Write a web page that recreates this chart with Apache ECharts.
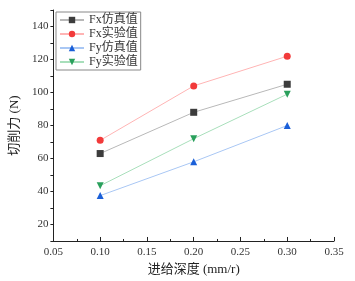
<!DOCTYPE html>
<html>
<head>
<meta charset="utf-8">
<script src="https://cdn.jsdelivr.net/npm/echarts@6/dist/echarts.min.js"></script>
<style>
  html, body { margin: 0; padding: 0; background: #fff; }
  #chart { width: 355px; height: 281px; }
</style>
</head>
<body>
<div id="chart"></div>
<script>
var feeds = [0.1, 0.2, 0.3];
var fxSim = [63, 88, 105];
var fxExp = [71, 104, 122];
var fySim = [37.5, 58, 80];
var fyExp = [43.5, 72, 99];
var seriesNames = ['Fx仿真值', 'Fx实验值', 'Fy仿真值', 'Fy实验值'];

var font = '"Liberation Serif", "Noto Sans CJK SC", serif';

function pairs(vals) {
  return feeds.map(function (x, i) { return [x, vals[i]]; });
}

function makeSeries(name, vals, symbol, color, lineColor, rotate) {
  return {
    name: name,
    type: 'line',
    data: pairs(vals),
    symbol: symbol,
    symbolSize: 7,
    symbolRotate: rotate || 0,
    itemStyle: { color: color },
    lineStyle: { color: lineColor, width: 1 },
    emphasis: { disabled: true }
  };
}

var myChart = echarts.init(document.getElementById('chart'));

option = {
  animation: false,
  textStyle: { fontFamily: font },
  grid: { left: 46, right: 21, top: 10, bottom: 40 },
  legend: {
    orient: 'vertical',
    left: 56,
    top: 12,
    itemWidth: 24,
    itemHeight: 8,
    itemGap: 2,
    padding: [2, 3, 2, 3],
    borderColor: '#888',
    borderWidth: 1,
    textStyle: { fontFamily: font, fontSize: 12, color: '#333' },
    data: seriesNames
  },
  xAxis: {
    type: 'value',
    min: 0.05,
    max: 0.35,
    interval: 0.05,
    name: '进给深度 (mm/r)',
    nameLocation: 'middle',
    nameGap: 22,
    nameTextStyle: { fontFamily: font, fontSize: 13, color: '#222' },
    axisLine: { lineStyle: { color: '#222', width: 1 } },
    axisTick: { inside: true, length: 4, lineStyle: { color: '#222' } },
    minorTick: { show: true, splitNumber: 2, length: 2, lineStyle: { color: '#222' } },
    axisLabel: {
      color: '#333', fontSize: 11, fontFamily: font, margin: 6,
      formatter: function (v) { return v.toFixed(2); }
    },
    splitLine: { show: false }
  },
  yAxis: {
    type: 'value',
    min: 10,
    max: 150,
    interval: 10,
    name: '切削力 (N)',
    nameLocation: 'middle',
    nameGap: 22,
    nameTextStyle: { fontFamily: font, fontSize: 13, color: '#222' },
    axisLine: { show: true, lineStyle: { color: '#222', width: 1 } },
    axisTick: { inside: false, length: 3, lineStyle: { color: '#222' } },
    axisLabel: {
      color: '#333', fontSize: 11, fontFamily: font, margin: 5,
      formatter: function (v) { return (v % 20 === 0) ? String(v) : ''; }
    },
    splitLine: { show: false }
  },
  series: [
    makeSeries(seriesNames[0], fxSim, 'rect', '#3c3c3c', '#b8b8b8'),
    makeSeries(seriesNames[1], fxExp, 'circle', '#f23a3a', '#ffb4b4'),
    makeSeries(seriesNames[2], fySim, 'triangle', '#1a5fd8', '#a9c7f4'),
    makeSeries(seriesNames[3], fyExp, 'triangle', '#2aa05c', '#a8dfbb', 180)
  ]
};

myChart.setOption(option);
</script>
</body>
</html>
